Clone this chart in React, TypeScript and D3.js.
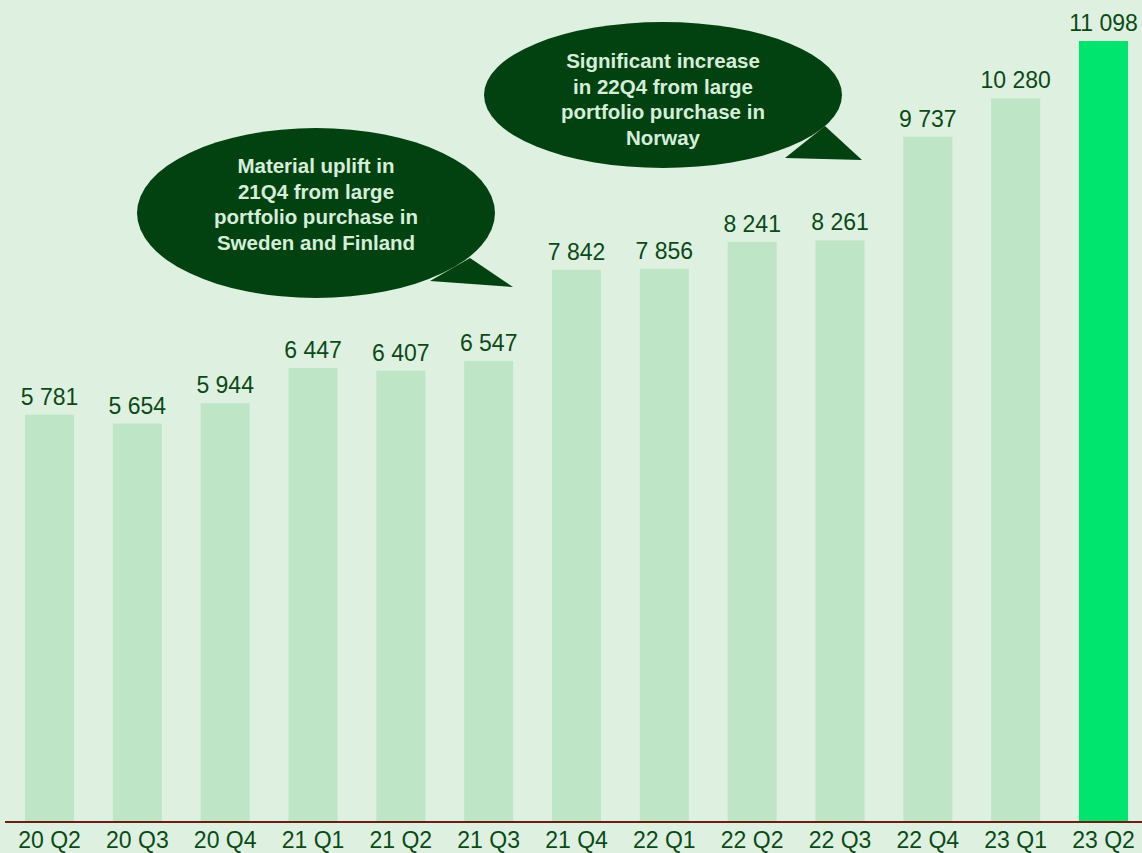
import * as d3 from 'd3'

const quarters = ['20 Q2', '20 Q3', '20 Q4', '21 Q1', '21 Q2', '21 Q3', '21 Q4', '22 Q1', '22 Q2', '22 Q3', '22 Q4', '23 Q1', '23 Q2']
const values = [5781, 5654, 5944, 6447, 6407, 6547, 7842, 7856, 8241, 8261, 9737, 10280, 11098]
const note1 = ['Material uplift in', '21Q4 from large', 'portfolio purchase in', 'Sweden and Finland']
const note2 = ['Significant increase', 'in 22Q4 from large', 'portfolio purchase in', 'Norway']

const W = 1142, H = 853
const bg = '#def1e1', barFill = '#bde5c6', lastFill = '#00e56e'
const dark = '#0b4a17', bubble = '#024211', bubbleText = '#d6eed9'
const font = 'Arial, "Liberation Sans", sans-serif'

function Bubble({ cx, cy, rx, ry, tail, lines, top }: { cx: number, cy: number, rx: number, ry: number, tail: [number, number][], lines: string[], top: number }) {
  return (
    <g>
      <ellipse cx={cx} cy={cy} rx={rx} ry={ry} fill={bubble} />
      <path d={d3.line()(tail) + 'Z'} fill={bubble} />
      {lines.map((t, i) => (
        <text key={i} x={cx} y={top + i * 25.5} textAnchor='middle'
          fontFamily={font} fontWeight='bold' fontSize={20.5} fill={bubbleText}>{t}</text>
      ))}
    </g>
  )
}

export default function App() {
  const x = d3.scaleBand<string>().domain(quarters).range([5.6, 1147.4]).paddingInner(0.442).paddingOuter(0.221)
  const y = d3.scaleLinear().domain([0, 11098]).range([821, 41])
  const fmt = (v: number) => d3.format(',')(v).replace(/,/g, ' ')

  return (
    <svg width={W} height={H} style={{ position: 'absolute', left: 0, top: 0, background: bg }}>
      <rect width={W} height={H} fill={bg} />
      {values.map((v, i) => (
        <g key={quarters[i]}>
          <rect x={x(quarters[i])} y={y(v)} width={x.bandwidth()} height={y(0) - y(v)}
            fill={i === values.length - 1 ? lastFill : barFill} />
          <text x={(x(quarters[i]) ?? 0) + x.bandwidth() / 2} y={y(v) - 10} textAnchor='middle'
            fontFamily={font} fontSize={23} fill={dark}>{fmt(v)}</text>
          <text x={(x(quarters[i]) ?? 0) + x.bandwidth() / 2} y={848} textAnchor='middle'
            fontFamily={font} fontSize={23} fill={dark}>{quarters[i]}</text>
        </g>
      ))}
      <line x1={5} x2={W} y1={y(0) + 1} y2={y(0) + 1} stroke='#6b1f14' strokeWidth={2} />
      <Bubble cx={316} cy={213} rx={179} ry={85} lines={note1} top={173}
        tail={[[470, 258], [513, 287], [430, 281]]} />
      <Bubble cx={663} cy={95} rx={179} ry={73} lines={note2} top={68}
        tail={[[825, 126], [862, 160], [785, 158]]} />
    </svg>
  )
}
